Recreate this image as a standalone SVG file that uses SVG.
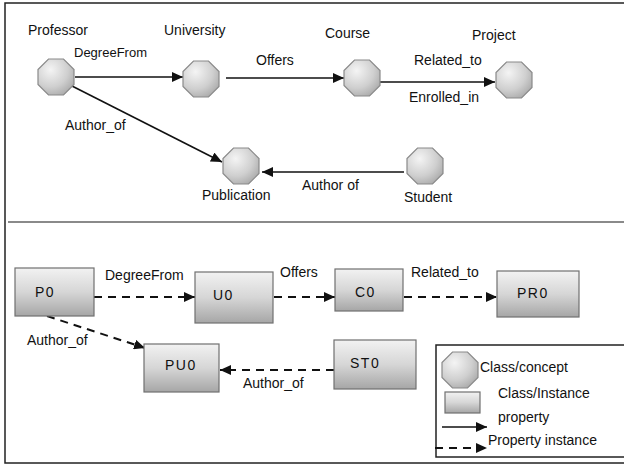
<svg xmlns="http://www.w3.org/2000/svg" width="624" height="466" viewBox="0 0 624 466">
<style>
text{font-family:"Liberation Sans",Arial,sans-serif;font-size:14px;fill:#111}
.sm{font-size:13px}
.oct{fill:url(#og);stroke:#8a8a8a;stroke-width:1.2}
.box{fill:url(#rg);stroke:#707070;stroke-width:1.2}
.lab{font-size:14px;letter-spacing:1.5px}
.sol{stroke:#111;stroke-width:1.6;fill:none;marker-end:url(#ah)}
.das{stroke:#111;stroke-width:2;fill:none;stroke-dasharray:8 6;marker-end:url(#ah)}
</style>
<defs>
<radialGradient id="og" cx="0.35" cy="0.3" r="0.8">
<stop offset="0" stop-color="#f4f4f4"/>
<stop offset="0.6" stop-color="#cfcfcf"/>
<stop offset="1" stop-color="#a8a8a8"/>
</radialGradient>
<linearGradient id="rg" x1="0" y1="0" x2="0" y2="1">
<stop offset="0" stop-color="#f2f2f2"/>
<stop offset="0.5" stop-color="#d6d6d6"/>
<stop offset="1" stop-color="#a6a6a6"/>
</linearGradient>
<polygon id="octshape" points="-7.5,-18 7.5,-18 18,-7.5 18,7.5 7.5,18 -7.5,18 -18,7.5 -18,-7.5"/>
<marker id="ah" markerUnits="userSpaceOnUse" markerWidth="12" markerHeight="10" refX="11" refY="5" orient="auto">
<path d="M0,0 L11,5 L0,10 z" fill="#111"/>
</marker>
</defs>
<rect x="0" y="0" width="624" height="466" fill="#fff"/>
<rect x="5" y="3" width="630" height="460" fill="none" stroke="#222" stroke-width="1.5"/>
<line x1="8" y1="222" x2="624" y2="222" stroke="#8a8a8a" stroke-width="2"/>

<g id="connectors">
<line class="sol" x1="75" y1="77" x2="183" y2="77"/>
<line class="sol" x1="72" y1="86" x2="222" y2="162"/>
<line class="sol" x1="226" y1="78" x2="344" y2="78"/>
<line class="sol" x1="380" y1="82" x2="495" y2="82"/>
<line class="sol" x1="404" y1="172" x2="262" y2="172"/>
<line class="das" x1="94" y1="297" x2="195" y2="297"/>
<line class="das" x1="274" y1="297" x2="335" y2="297"/>
<line class="das" x1="404" y1="297" x2="497" y2="297"/>
<line class="das" x1="47" y1="316" x2="145" y2="348"/>
<line class="das" x1="334" y1="370" x2="220" y2="370"/>
<text class="sm" x="74" y="57">DegreeFrom</text>
<text x="256" y="65">Offers</text>
<text x="65" y="130">Author_of</text>
<text x="414" y="65">Related_to</text>
<text x="409" y="102">Enrolled_in</text>
<text x="302" y="190">Author of</text>
<text x="105" y="280">DegreeFrom</text>
<text x="280" y="277">Offers</text>
<text x="411" y="277">Related_to</text>
<text x="27" y="345">Author_of</text>
<text x="243" y="388">Author_of</text>
</g>

<g id="professor"><use href="#octshape" class="oct" transform="translate(56,77)"/><text x="28" y="35">Professor</text></g>
<g id="university"><use href="#octshape" class="oct" transform="translate(201,79)"/><text x="164" y="35">University</text></g>
<g id="course"><use href="#octshape" class="oct" transform="translate(362,78)"/><text x="325" y="38">Course</text></g>
<g id="project"><use href="#octshape" class="oct" transform="translate(514,80)"/><text x="472" y="40">Project</text></g>
<g id="publication"><use href="#octshape" class="oct" transform="translate(241,166)"/><text x="202" y="200">Publication</text></g>
<g id="student"><use href="#octshape" class="oct" transform="translate(425,166)"/><text x="404" y="202">Student</text></g>

<g id="p0"><rect class="box" x="15" y="268" width="79" height="48"/><text class="lab" x="35" y="297">P0</text></g>
<g id="u0"><rect class="box" x="195" y="272" width="78" height="51"/><text class="lab" x="213" y="300">U0</text></g>
<g id="c0"><rect class="box" x="335" y="269" width="68" height="42"/><text class="lab" x="355" y="297">C0</text></g>
<g id="pr0"><rect class="box" x="497" y="271" width="82" height="46"/><text class="lab" x="517" y="298">PR0</text></g>
<g id="pu0"><rect class="box" x="144" y="344" width="75" height="48"/><text class="lab" x="165" y="370">PU0</text></g>
<g id="st0"><rect class="box" x="334" y="340" width="82" height="49"/><text class="lab" x="350" y="368">ST0</text></g>

<g id="legend">
<rect x="436" y="345" width="200" height="112" fill="#fff" stroke="#222" stroke-width="1.5"/>
<use href="#octshape" class="oct" transform="translate(460,370)"/>
<text x="480" y="372">Class/concept</text>
<rect class="box" x="445" y="392" width="35" height="21"/>
<text x="498" y="398">Class/Instance</text>
<line class="sol" x1="442" y1="427" x2="487" y2="427"/>
<text x="498" y="422">property</text>
<line class="das" x1="435" y1="448" x2="487" y2="448"/>
<text x="488" y="445">Property instance</text>
</g>
</svg>
